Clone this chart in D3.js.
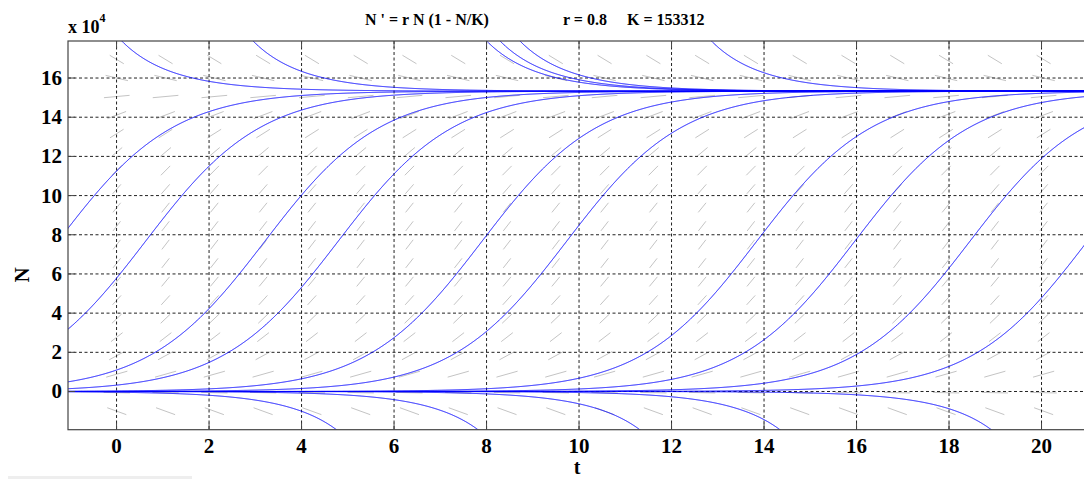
<!DOCTYPE html>
<html>
<head>
<meta charset="utf-8">
<script src="https://cdn.jsdelivr.net/npm/d3@7"></script>
<style>
  body { margin: 0; background: #fff; }
  svg { display: block; }
  text { font-family: "Liberation Serif", "Times New Roman", serif; font-weight: bold; fill: #000; }
</style>
</head>
<body>
<svg id="chart" width="1084" height="479"></svg>
<script>
// Logistic model N' = r N (1 - N/K)
const rate = 0.8;
const capacity = 153312;

// Display window
const tWindow = [-1.05, 21.1];
const nWindow = [-19500, 178900];

// Axis ticks
const tTicks = [0, 2, 4, 6, 8, 10, 12, 14, 16, 18, 20];
const nTicks = [0, 20000, 40000, 60000, 80000, 100000, 120000, 140000, 160000];
const nTickLabels = ["0", "2", "4", "6", "8", "10", "12", "14", "16"];

// Direction field grid size
const fieldCols = 20;
const fieldRows = 20;

// Starting points of the plotted solutions (t, N)
const startT = [
  0, 0.735, 3.315, 4.90, 8.01, 9.84, 13.95, 16.07, 18.56, 20.9,   // S-shaped
  1.65, 4.49, 9.54, 9.83, 10.26, 14.40,                            // above K
  3.99, 7.05, 10.55, 13.58, 18.15                                  // below 0
];
const startN = [
  112500, 80000, 80000, 80000, 80000, 80000, 80000, 80000, 80000, 73900,
  160000, 160000, 160000, 160000, 160000, 160000,
  -10000, -10000, -10000, -10000, -10000
];

const svg = d3.select("#chart");
const x = d3.scaleLinear().domain(tWindow).range([68, 1092.4]);
const y = d3.scaleLinear().domain(nWindow).range([429.7, 41]);
const [x0, x1] = x.range();
const [y0, y1] = y.range();

svg.append("defs").append("clipPath").attr("id", "plotClip")
  .append("rect").attr("x", x0).attr("y", y1).attr("width", x1 - x0).attr("height", y0 - y1);

const f = n => rate * n * (1 - n / capacity);

// ---- Direction field ----
const tSpan = tWindow[1] - tWindow[0];
const nSpan = nWindow[1] - nWindow[0];
const fieldT = d3.range(1, fieldCols + 1).map(i => tWindow[0] + i * tSpan / (fieldCols + 1));
const fieldN = d3.range(1, fieldRows + 1).map(i => nWindow[0] + i * nSpan / (fieldRows + 1));
const cellW = x(fieldT[1]) - x(fieldT[0]);
const cellH = y(fieldN[0]) - y(fieldN[1]);
const segFrac = 0.54;

const fieldG = svg.append("g").attr("clip-path", "url(#plotClip)");
fieldT.forEach(t => fieldN.forEach(n => {
  const vx = 1 / tSpan, vy = f(n) / nSpan;
  const len = Math.hypot(vx, vy);
  const dx = segFrac * cellW * vx / len / 2;
  const dy = segFrac * cellH * vy / len / 2;
  const cx = x(t), cy = y(n);
  fieldG.append("line")
    .attr("x1", cx - dx).attr("y1", cy + dy)
    .attr("x2", cx + dx).attr("y2", cy - dy)
    .attr("stroke", "#c4c4c4").attr("stroke-width", 1);
}));

// ---- Grid ----
const gridG = svg.append("g");
tTicks.forEach(t => gridG.append("line")
  .attr("x1", x(t)).attr("x2", x(t)).attr("y1", y1).attr("y2", y0)
  .attr("stroke", "#222").attr("stroke-width", 1).attr("stroke-dasharray", "3,2.5"));
nTicks.forEach(n => gridG.append("line")
  .attr("x1", x0).attr("x2", x1).attr("y1", y(n)).attr("y2", y(n))
  .attr("stroke", "#222").attr("stroke-width", 1).attr("stroke-dasharray", "3,2.5"));

// ---- Solutions (RK4 forward and backward from each start point) ----
function solve(t0, n0) {
  const h = 0.005;
  const step = (n, dt) => {
    const k1 = f(n), k2 = f(n + dt * k1 / 2), k3 = f(n + dt * k2 / 2), k4 = f(n + dt * k3);
    return n + dt * (k1 + 2 * k2 + 2 * k3 + k4) / 6;
  };
  const inside = n => n > nWindow[0] - 15000 && n < nWindow[1] + 15000;
  const fwd = [], bwd = [];
  let t = t0, n = n0;
  while (t <= tWindow[1] + 0.1 && inside(n)) { fwd.push([t, n]); n = step(n, h); t += h; }
  if (isFinite(n)) fwd.push([t, n]);
  t = t0; n = n0;
  while (t >= tWindow[0] - 0.1 && inside(n)) { bwd.push([t, n]); n = step(n, -h); t -= h; }
  if (isFinite(n)) bwd.push([t, n]);
  return bwd.reverse().concat(fwd.slice(1));
}

const line = d3.line().x(d => x(d[0])).y(d => y(d[1]));
const solG = svg.append("g").attr("clip-path", "url(#plotClip)");
startT.forEach((t0, i) => {
  solG.append("path").attr("d", line(solve(t0, startN[i])))
    .attr("fill", "none").attr("stroke", "#0000ff").attr("stroke-width", 1);
});

// ---- Axes frame and ticks ----
const axG = svg.append("g");
axG.append("rect").attr("x", x0).attr("y", y1).attr("width", x1 - x0).attr("height", y0 - y1)
  .attr("fill", "none").attr("stroke", "#444").attr("stroke-width", 1.2);
tTicks.forEach(t => {
  axG.append("line").attr("x1", x(t)).attr("x2", x(t)).attr("y1", y0).attr("y2", y0 - 7).attr("stroke", "#444");
  axG.append("line").attr("x1", x(t)).attr("x2", x(t)).attr("y1", y1).attr("y2", y1 + 7).attr("stroke", "#444");
  axG.append("text").attr("x", x(t)).attr("y", y0 + 23).attr("text-anchor", "middle")
    .attr("font-size", 21).text(t);
});
nTicks.forEach((n, i) => {
  axG.append("line").attr("x1", x0).attr("x2", x0 + 7).attr("y1", y(n)).attr("y2", y(n)).attr("stroke", "#444");
  axG.append("text").attr("x", x0 - 6).attr("y", y(n) + 7).attr("text-anchor", "end")
    .attr("font-size", 21).text(nTickLabels[i]);
});

// Exponent label
const expo = svg.append("text").attr("x", x0).attr("y", 33).attr("font-size", 18);
expo.append("tspan").text("x 10");
expo.append("tspan").attr("dy", -11).attr("font-size", 12).text("4");

// Axis labels
svg.append("text").attr("x", x(10) - 2).attr("y", 474).attr("text-anchor", "middle")
  .attr("font-size", 20).text("t");
svg.append("text").attr("transform", `translate(29,${y(60000) + 1}) rotate(-90)`)
  .attr("text-anchor", "middle").attr("font-size", 21).text("N");

// Title
svg.append("text").attr("x", 365).attr("y", 25).attr("font-size", 16).text("N ' = r N (1 - N/K)");
svg.append("text").attr("x", 563).attr("y", 25).attr("font-size", 16).text(`r = ${rate}`);
svg.append("text").attr("x", 627).attr("y", 25).attr("font-size", 16).text(`K = ${capacity}`);

// Status strip at the bottom
svg.append("rect").attr("x", 8).attr("y", 476).attr("width", 184).attr("height", 3).attr("fill", "#eeeeee");
</script>
</body>
</html>
